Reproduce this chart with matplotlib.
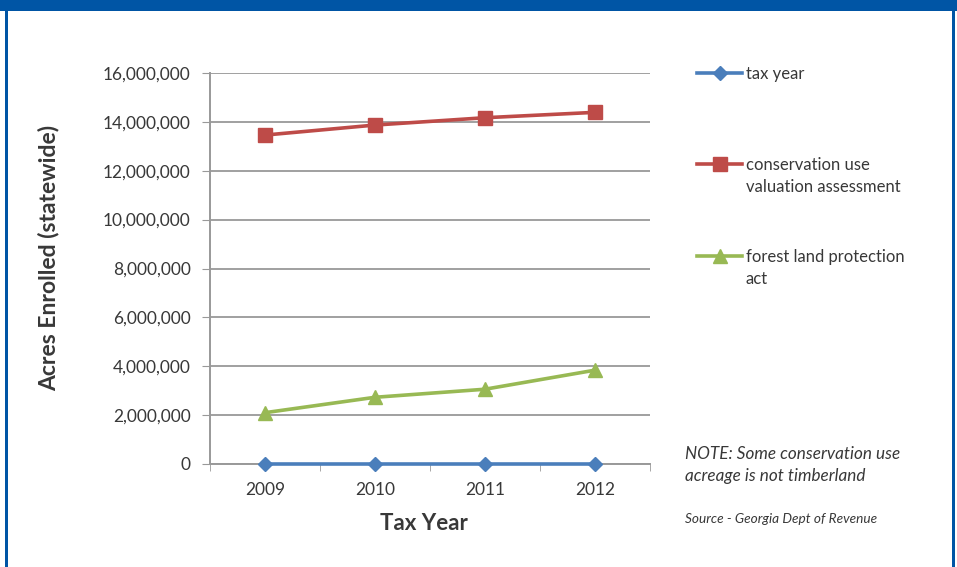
import matplotlib
matplotlib.use("Agg")
import matplotlib.pyplot as plt
from matplotlib.lines import Line2D
from matplotlib.patches import Rectangle
from matplotlib.ticker import FuncFormatter, MultipleLocator

# data
years = ["2009", "2010", "2011", "2012"]
tax_year = [2009, 2010, 2011, 2012]
conservation = [13460000, 13870000, 14170000, 14390000]
forest = [2100000, 2730000, 3060000, 3840000]

series_names = ["tax year", "conservation use\nvaluation assessment", "forest land protection\nact"]
colors = ["#4a7ebb", "#be4b48", "#98b954"]
markers = ["D", "s", "^"]
msizes = [7.5, 10, 10]

plt.rcParams["font.family"] = ["Lato", "DejaVu Sans"]
text_col = "#383838"

W, H = 957, 567
fig = plt.figure(figsize=(W / 100, H / 100), dpi=100)

# blue frame
fig.add_artist(Rectangle((0, 1 - 11 / H), 1, 11 / H, transform=fig.transFigure, color="#0055a5", lw=0))
fig.add_artist(Rectangle((5 / W, 0), 3 / W, 1, transform=fig.transFigure, color="#0055a5", lw=0))
fig.add_artist(Rectangle((952 / W, 0), 3 / W, 1, transform=fig.transFigure, color="#0055a5", lw=0))

# plot area in pixels: x 210..650, y 73..464
ax = fig.add_axes([210 / W, (H - 464) / H, 440 / W, 391 / H])
x = range(len(years))
for vals, c, m, ms in zip([tax_year, conservation, forest], colors, markers, msizes):
    ax.plot(x, vals, color=c, marker=m, ms=ms, lw=2.6, clip_on=False, zorder=3)

ax.set_xlim(-0.5, 3.5)
ax.set_ylim(0, 16000000)
ax.yaxis.set_major_locator(MultipleLocator(2000000))
ax.yaxis.set_major_formatter(FuncFormatter(lambda v, p: f"{int(v):,}"))
ax.set_xticks(list(x))
ax.set_xticklabels(years)
ax.set_xticks([-0.5, 0.5, 1.5, 2.5, 3.5], minor=True)
ax.tick_params(axis="x", which="major", length=0, pad=13, labelsize=12.5, labelcolor=text_col)
ax.tick_params(axis="x", which="minor", length=5, color="#999999")
ax.tick_params(axis="y", length=6, color="#999999", labelsize=12.5, labelcolor=text_col, pad=8)
ax.grid(axis="y", color="#a0a0a0", lw=1.4)
ax.set_axisbelow(True)
for s in ["top", "right"]:
    ax.spines[s].set_visible(False)
for s in ["left", "bottom"]:
    ax.spines[s].set_color("#999999")
    ax.spines[s].set_linewidth(1.4)

ax.set_xlabel("Tax Year", fontsize=16, fontweight="bold", color=text_col)
ax.xaxis.set_label_coords(0.486, -0.125)
ax.set_ylabel("Acres Enrolled (statewide)", fontsize=16.5, fontweight="bold", color=text_col)
ax.yaxis.set_label_coords(-0.342, 0.526)

# legend drawn by hand so the handle sits on the first line of text
legend_y = [73, 164, 256]
for name, c, m, ms, ly in zip(series_names, colors, markers, msizes, legend_y):
    yf = 1 - ly / H
    fig.add_artist(Line2D([697 / W, 742 / W], [yf, yf], transform=fig.transFigure, color=c, lw=2.6))
    fig.add_artist(Line2D([719.5 / W], [yf], transform=fig.transFigure, color=c, marker=m, ms=ms, lw=0))
    fig.text(746 / W, yf + 7 / H, name, fontsize=12, color=text_col, va="top", ha="left",
             linespacing=1.5)

fig.text(685 / W, 1 - 446 / H, "NOTE: Some conservation use\nacreage is not timberland",
         fontsize=12.3, style="italic", color=text_col, va="top", ha="left", linespacing=1.45)
fig.text(685 / W, 1 - 513 / H, "Source - Georgia Dept of Revenue",
         fontsize=9.8, style="italic", color=text_col, va="top", ha="left")

fig.savefig("out.png", dpi=100)
